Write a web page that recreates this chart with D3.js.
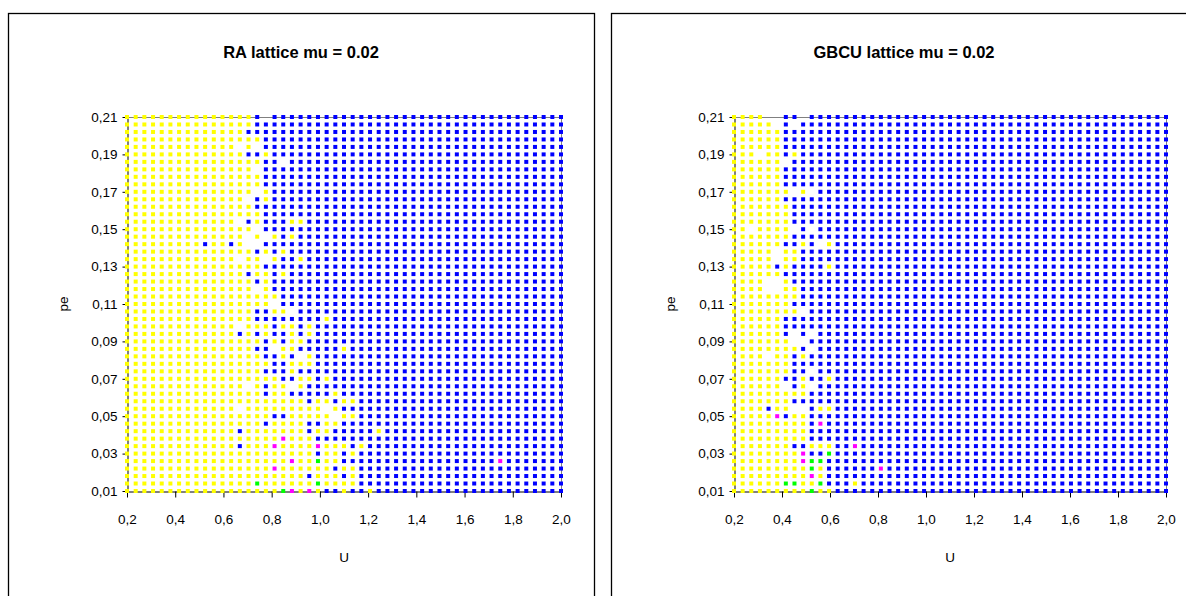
<!DOCTYPE html>
<html>
<head>
<meta charset="utf-8">
<script src="https://cdn.jsdelivr.net/npm/d3@7"></script>
<style>
  body { margin: 0; background: #fff; }
  svg { display: block; font-family: 'Liberation Sans', Arial, sans-serif; }
</style>
</head>
<body>
<svg id="chart" width="1186" height="596"></svg>
<script>
// grid columns (U) and rows (pe, top row first)
const uValues = [0.2, 0.236, 0.272, 0.308, 0.344, 0.38, 0.416, 0.452, 0.488, 0.524,
  0.56, 0.596, 0.632, 0.668, 0.704, 0.74, 0.776, 0.812, 0.848, 0.884,
  0.92, 0.956, 0.992, 1.028, 1.064, 1.1, 1.136, 1.172, 1.208, 1.244,
  1.28, 1.316, 1.352, 1.388, 1.424, 1.46, 1.496, 1.532, 1.568, 1.604,
  1.64, 1.676, 1.712, 1.748, 1.784, 1.82, 1.856, 1.892, 1.928, 1.964, 2.0];
const peValues = [0.21, 0.206, 0.202, 0.198, 0.194, 0.19, 0.186, 0.182, 0.178, 0.174,
  0.17, 0.166, 0.162, 0.158, 0.154, 0.15, 0.146, 0.142, 0.138, 0.134,
  0.13, 0.126, 0.122, 0.118, 0.114, 0.11, 0.106, 0.102, 0.098, 0.094,
  0.09, 0.086, 0.082, 0.078, 0.074, 0.07, 0.066, 0.062, 0.058, 0.054,
  0.05, 0.046, 0.042, 0.038, 0.034, 0.03, 0.026, 0.022, 0.018, 0.014, 0.01];
const uTicks = [0.2, 0.4, 0.6, 0.8, 1.0, 1.2, 1.4, 1.6, 1.8, 2.0];
const peTicks = [0.01, 0.03, 0.05, 0.07, 0.09, 0.11, 0.13, 0.15, 0.17, 0.19, 0.21];

// y = yellow, b = blue, m = magenta, g = green, . = no point
const stateColors = { y: '#ffff00', b: '#0000ff', m: '#ff00ff', g: '#00ff00' };

const raRows = [
  'yyyyyyyyyy yyyyyb.bbb bbbbbbbbbb bbbbbbbbbb bbbbbbbbbb b',
  'yyyyyyyyyy yyyyybbbbb bbbbbbbbbb bbbbbbbbbb bbbbbbbbbb b',
  'yyyyyyyyyy yyyybbbbbb bbbbbbbbbb bbbbbbbbbb bbbbbbbbbb b',
  'yyyyyyyyyy yyyyyybbbb bbbbbbbbbb bbbbbbbbbb bbbbbbbbbb b',
  'yyyyyyyyyy yyy.y.bbbb bbbbbbbbbb bbbbbbbbbb bbbbbbbbbb b',
  'yyyyyyyyyy yyyybbybbb bbbbbbbbbb bbbbbbbbbb bbbbbbbbbb b',
  'yyyyyyyyyy yyyyyybb.b bbbbbbbbbb bbbbbbbbbb bbbbbbbbbb b',
  'yyyyyyyyyy yyyyy.bbbb bbbbbbbbbb bbbbbbbbbb bbbbbbbbbb b',
  'yyyyyyyyyy yyyyyybbbb bbbbbbbbbb bbbbbbbbbb bbbbbbbbbb b',
  'yyyyyyyyyy yyyyyybbbb bbbbbbbbbb bbbbbbbbbb bbbbbbbbbb b',
  'yyyyyyyyyy yyyyy.ybbb bbbbbbbbbb bbbbbbbbbb bbbbbbbbbb b',
  'yyyyyyyyyy yyyy.bybbb bbbbbbbbbb bbbbbbbbbb bbbbbbbbbb b',
  'yyyyyyyyyy yyyyybbbbb bbbbbbbbbb bbbbbbbbbb bbbbbbbbbb b',
  'yyyyyyyyyy yyyyyybbbb bbbbbbbbbb bbbbbbbbbb bbbbbbbbbb b',
  'yyyyyyyyyy yyy.bybbby ybbbbbbbbb bbbbbbbbbb bbbbbbbbbb b',
  'yyyyyyyyyy yyyyy.bbbb bbbbbbbbbb bbbbbbbbbb bbbbbbbbbb b',
  'yyyyyyyyyy yyyy.y.yby bbbbbbbbbb bbbbbbbbbb bbbbbbbbbb b',
  'yyyyyyyyyb yyby..bbbb bbbbbbbbbb bbbbbbbbbb bbbbbbbbbb b',
  'yyyyyyyyyy yyyyybybyb bbbbbbbbbb bbbbbbbbbb bbbbbbbbbb b',
  'yyyyyyyyyy yyy.yy.ybb ybbbbbbbbb bbbbbbbbbb bbbbbbbbbb b',
  'yyyyyyyyyy yyyyyybbbb bbbbbbbbbb bbbbbbbbbb bbbbbbbbbb b',
  'yyyyyyyyyy yyyybyybyb bbbbbbbbbb bbbbbbbbbb bbbbbbbbbb b',
  'yyyyyyyyyy yyyyybybbb bbbbbbbbbb bbbbbbbbbb bbbbbbbbbb b',
  'yyyyyyyyyy yyyyy.ybbb bbbbbbbbbb bbbbbbbbbb bbbbbbbbbb b',
  'yyyyyyyyyy yyyyyyyybb bbbbbbbbbb bbbbbbbbbb bbbbbbbbbb b',
  'yyyyyyyyyy yyyyyyy.bb bbbbbbbbbb bbbbbbbbbb bbbbbbbbbb b',
  'yyyyyyyyyy yyyyybbyy. bbbbbbbbbb bbbbbbbbbb bbbbbbbbbb b',
  'yyyyyyyyyy yyyyybbbbb bbbybbbbbb bbbbbbbbbb bbbbbbbbbb b',
  'yyyyyyyyyy yyy.yyybyy bybbbbbbbb bbbbbbbbbb bbbbbbbbbb b',
  'yyyyyyyyyy yyybybybby bybbbbbbbb bbbbbbbbbb bbbbbbbbbb b',
  'yyyyyyyyyy yyyyyybyby ybbbbbbbbb bbbbbbbbbb bbbbbbbbbb b',
  'yyyyyyyyyy yyyyybb.yy bbbbbybbbb bbbbbbbbbb bbbbbbbbbb b',
  'yyyyyyyyyy yyyyyybbyb .ybbbbbbbb bbbbbbbbbb bbbbbbbbbb b',
  'yyyyyyyyyy yyyyyyybby yybbbbbbbb bbbbbbbbbb bbbbbbbbbb b',
  'yyyyyyyyyy yyyyyybbby bbbbbbbbbb bbbbbbbbbb bbbbbbbbbb b',
  'yyyyyyyyyy yyyyyyyybb yybybbbbbb bbbbbbbbbb bbbbbbbbbb b',
  'yyyyyyyyyy yyyy.ybyy. ybbbbbbbbb bbbbbbbbbb bbbbbbbbbb b',
  'yyyyyyyyyy yyyyyybyyb bbbbybbbbb bbbbbbbbbb bbbbbbbbbb b',
  'yyyyyyyyyy yyyyyyyyyy ybyybyybbb bbbbbbbbbb bbbbbbbbbb b',
  'yyyyyyyyyy yyy.yyyyyy yyy.ybbbbb bbbbbbbbbb bbbbbbbbbb b',
  'yyyyyyyyyy yyyyyyybby yyyy.yybbb bbbbbbbbbb bbbbbbbbbb b',
  'yyyyyyyyyy yyyyyybyyy ybbyybbbbb bbbbbbbbbb bbbbbbbbbb b',
  'yyyyyyyyyy yyybyyyyyy ybyybbbbby bbbbbbbbbb bbbbbbbbbb b',
  'yyyyyyyyyy yyyyyyyymy yybbbbbbbb bbbbbbbbbb bbbbbbbbbb b',
  'yyyyyyyyyy yyybyyymyy yymyyybybb bbbbbbbbbb bbbbbbbbbb b',
  'yyyyyyyyyy yyyyyyyyyy yybyybybbb bbbbbbbbbb bbbbbbbbbb b',
  'yyyyyyyyyy yyyyyyyyym yygyybbbbb bbbbbbbbbb bbbmbbbbbb b',
  'yyyyyyyyyy yyyyyyymyy yyyybyybbb bbbbbbbbbb bbbbbbbbbb b',
  'yyyyyyyyyy yyyyyyyyyy ybyyybybbb bbbbbbbbbb bbbbbbbbbb b',
  'yyyyyyyyyy yyyyygyyyy yygyyyybbb bbbbbbbbbb bbbbbbbbbb b',
  'yyyyyyyyyy yyyyyyyygm ymybbybbyb bbbbbbbbbb bbbbbbbbbb b'
];

const gbcuRows = [
  'yyyy..bb.b bbbbbbbbbb bbbbbbbbbb bbbbbbbbbb bbbbbbbbbb b',
  'yyyyy.b.bb bbbbbbbbbb bbbbbbbbbb bbbbbbbbbb bbbbbbbbbb b',
  'yyyyyybbbb bbbbbbbbbb bbbbbbbbbb bbbbbbbbbb bbbbbbbbbb b',
  'yyyyyybbbb bbbbbbbbbb bbbbbbbbbb bbbbbbbbbb bbbbbbbbbb b',
  'yyyyyybbbb bbbbbbbbbb bbbbbbbbbb bbbbbbbbbb bbbbbbbbbb b',
  'yyy.yybybb bbbbbbbbbb bbbbbbbbbb bbbbbbbbbb bbbbbbbbbb b',
  'yyyyyy.bbb bbbbbbbbbb bbbbbbbbbb bbbbbbbbbb bbbbbbbbbb b',
  'yyyyyybbbb bbbbbbbbbb bbbbbbbbbb bbbbbbbbbb bbbbbbbbbb b',
  'yyyyyybbbb bbbbbbbbbb bbbbbbbbbb bbbbbbbbbb bbbbbbbbbb b',
  'yyyyyybbbb bbbbbbbbbb bbbbbbbbbb bbbbbbbbbb bbbbbbbbbb b',
  'yyyyyyy.y. bbbbbbbbbb bbbbbbbbbb bbbbbbbbbb bbbbbbbbbb b',
  'yyyyyybbbb bbbbbbbbbb bbbbbbbbbb bbbbbbbbbb bbbbbbbbbb b',
  'yyyyyyybbb bbbbbbbbbb bbbbbbbbbb bbbbbbbbbb bbbbbbbbbb b',
  'yyyyyyybbb bbbbbbbbbb bbbbbbbbbb bbbbbbbbbb bbbbbbbbbb b',
  'yyyyyyybbb bbbbbbbbbb bbbbbbbbbb bbbbbbbbbb bbbbbbbbbb b',
  'yy.yyyy.b. bbbbbbbbbb bbbbbbbbbb bbbbbbbbbb bbbbbbbbbb b',
  'yyyyyyybbb bbbbbbbbbb bbbbbbbbbb bbbbbbbbbb bbbbbbbbbb b',
  'yyyyyybbyb .ybbbbbbbb bbbbbbbbbb bbbbbbbbbb bbbbbbbbbb b',
  'yyyyy.yybb bbbbbbbbbb bbbbbbbbbb bbbbbbbbbb bbbbbbbbbb b',
  'yyyyy.yybb bbbbbbbbbb bbbbbbbbbb bbbbbbbbbb bbbbbbbbbb b',
  'yyyyybybbb bybbbbbbbb bbbbbbbbbb bbbbbbbbbb bbbbbbbbbb b',
  'yyyyyybbbb bbbbbbbbbb bbbbbbbbbb bbbbbbbbbb bbbbbbbbbb b',
  'yyyy..ybbb bbbbbbbbbb bbbbbbbbbb bbbbbbbbbb bbbbbbbbbb b',
  'yyyy..yybb bbbbbbbbbb bbbbbbbbbb bbbbbbbbbb bbbbbbbbbb b',
  'yyyyyyyybb bbbbbbbbbb bbbbbbbbbb bbbbbbbbbb bbbbbbbbbb b',
  'yyyyyyybbb bbbbbbbbbb bbbbbbbbbb bbbbbbbbbb bbbbbbbbbb b',
  'yyyyyyyy.b bbbbbbbbbb bbbbbbbbbb bbbbbbbbbb bbbbbbbbbb b',
  'yyyyyybbbb bbbbbbbbbb bbbbbbbbbb bbbbbbbbbb bbbbbbbbbb b',
  'yyyyyybbbb bbbbbbbbbb bbbbbbbbbb bbbbbbbbbb bbbbbbbbbb b',
  'yyyyyyb.b. bbbbbbbbbb bbbbbbbbbb bbbbbbbbbb bbbbbbbbbb b',
  'yyyyyyy..b bbbbbbbbbb bbbbbbbbbb bbbbbbbbbb bbbbbbbbbb b',
  'yyyyyyyyb. bbbbbbbbbb bbbbbbbbbb bbbbbbbbbb bbbbbbbbbb b',
  'yyyy.yybyb bbbbbbbbbb bbbbbbbbbb bbbbbbbbbb bbbbbbbbbb b',
  'yyyyyyybbb bbbbbbbbbb bbbbbbbbbb bbbbbbbbbb bbbbbbbbbb b',
  'yyyyyyybb. bbbbbbbbbb bbbbbbbbbb bbbbbbbbbb bbbbbbbbbb b',
  'yyyyyybbyb bybbbbbbbb bbbbbbbbbb bbbbbbbbbb bbbbbbbbbb b',
  'yyyyyy.by. bbbbbbbbbb bbbbbbbbbb bbbbbbbbbb bbbbbbbbbb b',
  'yyyyyyyyyb bbbbbbbbbb bbbbbbbbbb bbbbbbbbbb bbbbbbbbbb b',
  'yyyyyyybbb bbbbbbbbbb bbbbbbbbbb bbbbbbbbbb bbbbbbbbbb b',
  'yyyybyy..b yybbbbbbbb bbbbbbbbbb bbbbbbbbbb bbbbbbbbbb b',
  'yyyyymbyyb bbbbbbbbbb bbbbbbbbbb bbbbbbbbbb bbbbbbbbbb b',
  'yyyyyyyyyb mbbbbbbbbb bbbbbbbbbb bbbbbbbbbb bbbbbbbbbb b',
  'yyyyyyyyyb bbbbbbbbbb bbbbbbbbbb bbbbbbbbbb bbbbbbbbbb b',
  'yyyyyyyyyb bbbbbbbbbb bbbbbbbbbb bbbbbbbbbb bbbbbbbbbb b',
  'yyyyyyybby yybbmbbbbb bbbbbbbbbb bbbbbbbbbb bbbbbbbbbb b',
  'yyyyyyyymb bgbbbbbbbb bbbbbbbbbb bbbbbbbbbb bbbbbbbbbb b',
  'yyyyyyyymg gbbbbbbbbb bbbbbbbbbb bbbbbbbbbb bbbbbbbbbb b',
  'yyyyyyyyyg ybbbbbbmbb bbbbbbbbbb bbbbbbbbbb bbbbbbbbbb b',
  'yyyyyyyyym ybbbbbbbbb bbbbbbbbbb bbbbbbbbbb bbbbbbbbbb b',
  'yyyyyyggyy gbbbybbbbb bbbbbbbbbb bbbbbbbbbb bbbbbbbbbb b',
  'yyyyyyyyyg yybbbbbbbb bbbbbbbbbb bbbbbbbbbb bbbbbbbbbb b'
];

class LatticeChart {

  constructor(svg, title, rows) {
    this.svg = svg;
    this.title = title;
    this.rows = rows.map(r => r.replace(/ /g, ''));
    this.markerSize = 4;
  }

  render(box, plot) {
    const g = this.svg.append('g');

    // chart frame
    g.append('rect')
      .attr('x', box.x + 0.5)
      .attr('y', box.y + 0.5)
      .attr('width', box.w)
      .attr('height', box.h)
      .attr('fill', '#fff')
      .attr('stroke', '#000')
      .attr('stroke-width', 1.3);

    g.append('text')
      .attr('x', box.x + box.w / 2)
      .attr('y', 58)
      .attr('text-anchor', 'middle')
      .attr('font-size', 16.5)
      .attr('font-weight', 'bold')
      .text(this.title);

    const x = d3.scaleLinear()
      .domain([uValues[0], uValues[uValues.length - 1]])
      .range([plot.left, plot.right]);
    const y = d3.scaleLinear()
      .domain([peValues[peValues.length - 1], peValues[0]])
      .range([plot.bottom, plot.top]);

    // plot area border (grey top/right)
    g.append('path')
      .attr('d', `M${plot.left},${plot.top + 0.5}H${plot.right + 0.5}V${plot.bottom}`)
      .attr('fill', 'none')
      .attr('stroke', '#808080');

    const xAxis = d3.axisBottom(x)
      .tickValues(uTicks)
      .tickSize(6)
      .tickSizeOuter(0)
      .tickPadding(17)
      .tickFormat(d => d3.format('.1f')(d).replace('.', ','));
    const yAxis = d3.axisLeft(y)
      .tickValues(peTicks)
      .tickSize(5)
      .tickSizeOuter(0)
      .tickPadding(5)
      .tickFormat(d => d3.format('.2f')(d).replace('.', ','));

    g.append('g')
      .attr('transform', `translate(0,${plot.bottom + 0.5})`)
      .call(xAxis)
      .call(a => a.selectAll('text').attr('font-size', 13.5).attr('font-family', null).attr('fill', '#000'));
    g.append('g')
      .attr('transform', `translate(${plot.left + 0.5},0)`)
      .call(yAxis)
      .call(a => a.selectAll('text').attr('font-size', 13.5).attr('font-family', null).attr('fill', '#000'));

    g.append('text')
      .attr('x', (plot.left + plot.right) / 2)
      .attr('y', 562)
      .attr('text-anchor', 'middle')
      .attr('font-size', 13.5)
      .text('U');
    g.append('text')
      .attr('transform', `translate(${plot.left - 59},${(plot.top + plot.bottom) / 2}) rotate(-90)`)
      .attr('text-anchor', 'middle')
      .attr('font-size', 13.5)
      .text('pe');

    // lattice points
    const cells = [];
    this.rows.forEach((row, i) => {
      row.split('').forEach((c, j) => {
        if (stateColors[c]) cells.push({ u: uValues[j], pe: peValues[i], c: c });
      });
    });
    const s = this.markerSize;
    g.append('g')
      .selectAll('rect')
      .data(cells)
      .enter()
      .append('rect')
      .attr('x', d => x(d.u) - s / 2)
      .attr('y', d => y(d.pe) - s / 2)
      .attr('width', s)
      .attr('height', s)
      .attr('fill', d => stateColors[d.c]);
  }
}

const svg = d3.select('#chart');
new LatticeChart(svg, 'RA lattice mu = 0.02', raRows)
  .render({ x: 8, y: 13, w: 586, h: 600 }, { left: 127, right: 561, top: 117, bottom: 491 });
new LatticeChart(svg, 'GBCU lattice mu = 0.02', gbcuRows)
  .render({ x: 611, y: 13, w: 586, h: 600 }, { left: 734, right: 1166, top: 117, bottom: 491 });
</script>
</body>
</html>
